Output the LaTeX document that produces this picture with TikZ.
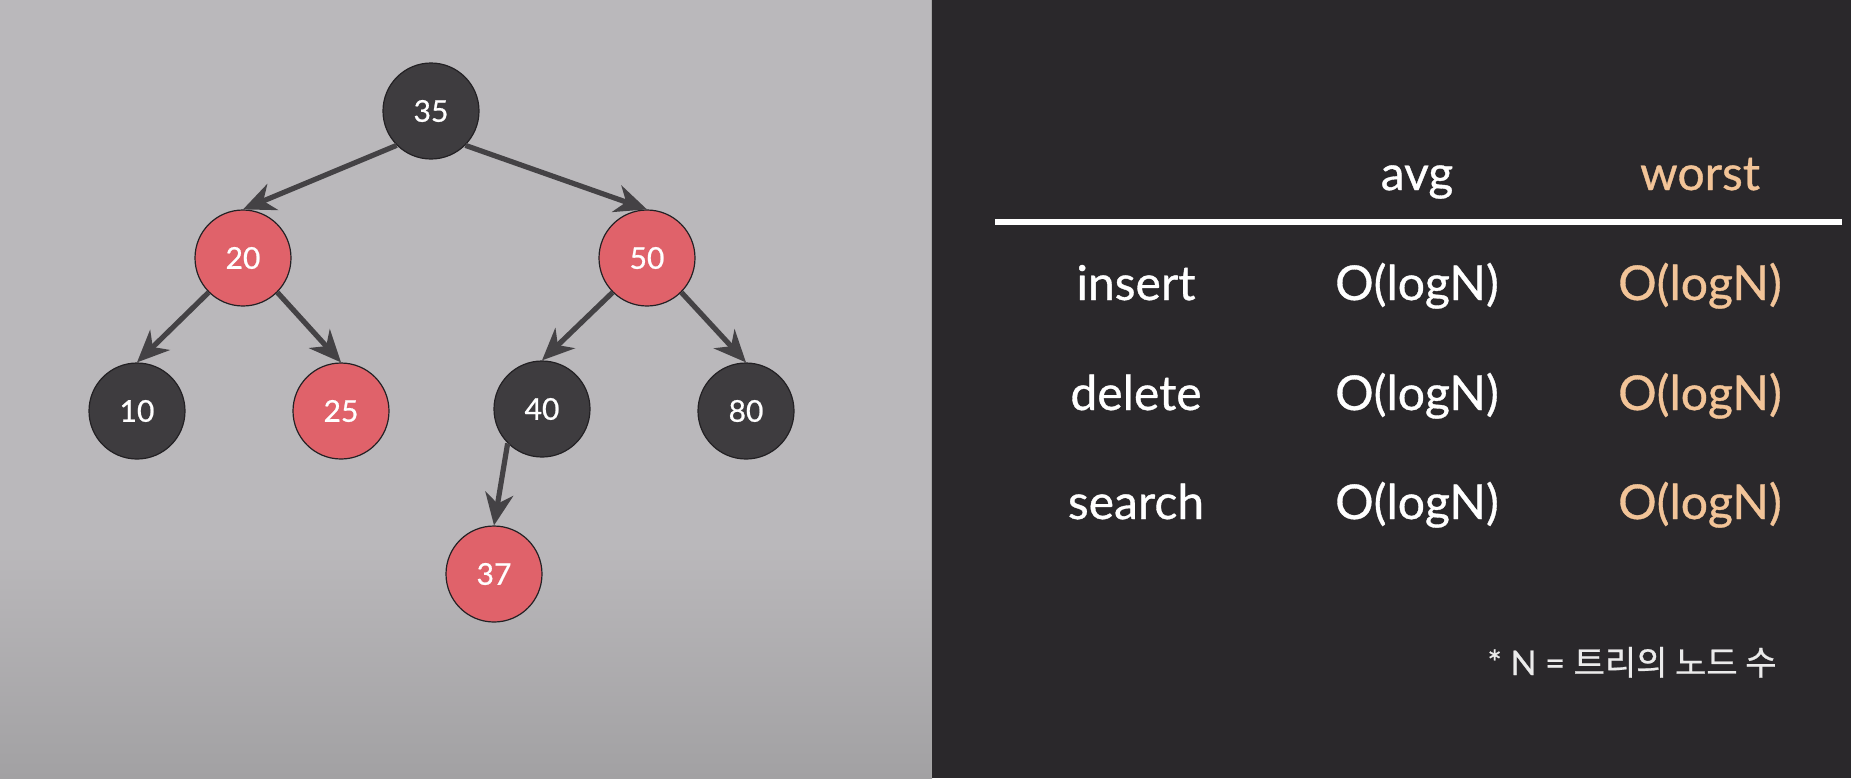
\documentclass[tikz,border=0pt]{standalone}
\usepackage{fontspec}
\setmainfont{Lato}
\newfontfamily\medfont{Lato}[FakeBold=0.7]
\newfontfamily\kofont{Noto Sans CJK KR}[FakeBold=0.7]
\usetikzlibrary{arrows.meta}
\definecolor{leftbg}{RGB}{186,184,187}
\definecolor{leftbot}{RGB}{162,161,163}
\definecolor{rightbg}{RGB}{42,40,43}
\definecolor{nodedark}{RGB}{62,60,63}
\definecolor{nodered}{RGB}{224,98,106}
\definecolor{nodeedge}{RGB}{35,33,36}
\definecolor{arrowc}{RGB}{68,66,69}
\definecolor{orangetxt}{RGB}{242,196,152}
\tikzset{
  tnode/.style={circle, minimum size=48pt, inner sep=0pt, draw=nodeedge, line width=0.6pt,
    text=white, font=\medfont\fontsize{15}{15}\selectfont},
  blknode/.style={tnode, fill=nodedark},
  rednode/.style={tnode, fill=nodered},
  arr/.style={draw=arrowc, line width=2.6pt, -{Stealth[length=16pt, width=14pt, inset=5pt]}},
  tabtxt/.style={anchor=base, text=white, font=\medfont\fontsize{24}{28}\selectfont, inner sep=0pt},
  worsttxt/.style={tabtxt, text=orangetxt}
}
\begin{document}
\begin{tikzpicture}[x=0.5pt,y=-0.5pt]
\useasboundingbox (0,0) rectangle (1851,778);
% backgrounds
\fill[leftbg] (0,0) rectangle (932,546);
\shade[top color=leftbg, bottom color=leftbot] (0,545) rectangle (932,778);
\fill[rightbg] (932,0) rectangle (1851,778);
\draw[color=gray!70, line width=0.5pt] (931,0) -- (931,778);
% tree nodes
\node[blknode] (n35) at (431,111) {35};
\node[rednode] (n20) at (243,258) {20};
\node[rednode] (n50) at (647,258) {50};
\node[blknode] (n10) at (137,411) {10};
\node[rednode] (n25) at (341,411) {25};
\node[blknode] (n40) at (542,409) {40};
\node[blknode] (n80) at (746,411) {80};
\node[rednode] (n37) at (494,574) {37};
% connectors
\draw[arr] (n35.south west) -- (n20.north);
\draw[arr] (n35.south east) -- (n50.north);
\draw[arr] (n20.south west) -- (n10.north);
\draw[arr] (n20.south east) -- (n25.north);
\draw[arr] (n50.south west) -- (n40.north);
\draw[arr] (n50.south east) -- (n80.north);
\draw[arr] (n40.south west) -- (n37.north);
% table
\node[tabtxt] (havg) at (1417,190) {avg};
\node[worsttxt] (hworst) at (1700,190) {worst};
\coordinate (ruleL) at (995,222);
\coordinate (ruleR) at (1842,222);
\draw[white, line width=2.6pt] (ruleL) -- (ruleR);
\node[tabtxt] (l1) at (1136,300) {insert};
\node[tabtxt] (a1) at (1417,300) {O(logN)};
\node[worsttxt] (w1) at (1700,300) {O(logN)};
\node[tabtxt] (l2) at (1136,410) {delete};
\node[tabtxt] (a2) at (1417,410) {O(logN)};
\node[worsttxt] (w2) at (1700,410) {O(logN)};
\node[tabtxt] (l3) at (1136,519) {search};
\node[tabtxt] (a3) at (1417,519) {O(logN)};
\node[worsttxt] (w3) at (1700,519) {O(logN)};
\node[anchor=base west, inner sep=0pt, text=white!92!black, font=\medfont\fontsize{17}{19}\selectfont] (foot) at (1487,675) {* N = {\kofont 트리의 노드 수}};
\end{tikzpicture}
\end{document}
